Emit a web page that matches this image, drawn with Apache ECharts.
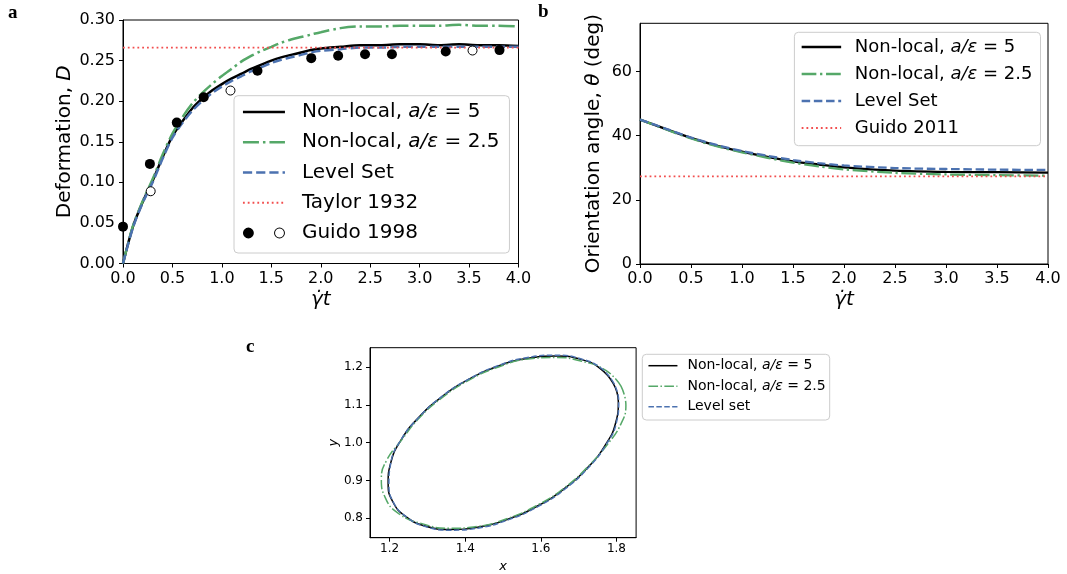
<!DOCTYPE html>
<html><head><meta charset="utf-8">
<script src="https://cdn.jsdelivr.net/npm/echarts@6/dist/echarts.min.js"></script>
<style>html,body{margin:0;padding:0;background:#fff}#c{width:1067px;height:574px}</style>
</head><body><div id="c"></div>
<script>
// ---------- Panel a: deformation D vs strain ----------
const tA = [0,0.1,0.2,0.3,0.4,0.5,0.6,0.7,0.8,0.9,1.0,1.1,1.2,1.3,1.4,1.5,1.6,1.7,1.8,1.9,2.0,2.2,2.4,2.6,2.8,3.0,3.2,3.4,3.6,3.8,4.0];
const dNL5 = [0,0.045,0.076,0.102,0.131,0.157,0.175,0.191,0.203,0.213,0.221,0.228,0.234,0.240,0.245,0.250,0.254,0.257,0.260,0.263,0.265,0.267,0.269,0.269,0.270,0.270,0.269,0.270,0.269,0.269,0.268];
const dNL25 = [0,0.046,0.077,0.104,0.134,0.160,0.180,0.197,0.210,0.221,0.231,0.240,0.249,0.256,0.262,0.267,0.272,0.276,0.279,0.282,0.285,0.290,0.292,0.292,0.293,0.293,0.293,0.294,0.293,0.293,0.292];
const dLS = [0,0.044,0.075,0.100,0.129,0.155,0.173,0.188,0.200,0.210,0.218,0.225,0.231,0.237,0.242,0.247,0.251,0.254,0.257,0.260,0.262,0.264,0.266,0.266,0.267,0.267,0.267,0.267,0.267,0.267,0.267];
const taylorD = 0.266;
const guidoT = [0,0.272,0.544,0.816,1.36,1.904,2.176,2.448,2.72,3.264,3.808];
const guidoD = [0.0454,0.1227,0.1736,0.2049,0.2374,0.253,0.2559,0.2579,0.2579,0.2612,0.2629];
const guidoOpenT = [0.28,1.087,3.535];
const guidoOpenD = [0.089,0.2131,0.2624];
const xTicksA = [0,0.5,1.0,1.5,2.0,2.5,3.0,3.5,4.0];
const yTicksA = [0,0.05,0.10,0.15,0.20,0.25,0.30];

// ---------- Panel b: orientation angle ----------
const tB = [0,0.25,0.5,0.75,1.0,1.25,1.5,1.75,2.0,2.5,3.0,3.5,4.0];
const thNL5 = [45.0,42.1,39.3,36.9,35.0,33.4,32.0,31.0,30.1,29.1,28.7,28.6,28.5];
const thNL25 = [45.0,42.0,39.1,36.7,34.8,33.1,31.6,30.4,29.5,28.4,27.9,27.7,27.5];
const thLS = [45.0,42.2,39.4,37.1,35.2,33.7,32.4,31.4,30.7,29.9,29.6,29.4,29.3];
const guido2011 = 27.3;
const xTicksB = [0,0.5,1.0,1.5,2.0,2.5,3.0,3.5,4.0];
const yTicksB = [0,20,40,60];

// ---------- Panel c: drop shape ----------
const ellNL5 = [[1.791,1.158],[1.758,1.196],[1.706,1.221],[1.641,1.230],[1.567,1.224],[1.487,1.203],[1.409,1.168],[1.337,1.121],[1.276,1.066],[1.230,1.007],[1.203,0.947],[1.196,0.892],[1.209,0.842],[1.243,0.804],[1.294,0.779],[1.359,0.770],[1.433,0.776],[1.513,0.797],[1.591,0.832],[1.663,0.879],[1.724,0.934],[1.770,0.993],[1.798,1.053],[1.805,1.109],[1.791,1.158]];
const ellNL25 = [[1.812,1.150],[1.772,1.192],[1.708,1.216],[1.640,1.226],[1.566,1.222],[1.488,1.201],[1.410,1.166],[1.338,1.119],[1.277,1.064],[1.230,1.005],[1.193,0.955],[1.178,0.905],[1.188,0.855],[1.224,0.812],[1.290,0.784],[1.358,0.773],[1.433,0.778],[1.512,0.799],[1.590,0.834],[1.662,0.880],[1.724,0.936],[1.775,0.994],[1.812,1.050],[1.825,1.100],[1.812,1.150]];
const ellLS = [[1.793,1.158],[1.760,1.197],[1.707,1.222],[1.640,1.232],[1.565,1.226],[1.486,1.204],[1.408,1.168],[1.336,1.121],[1.275,1.065],[1.229,1.006],[1.203,0.946],[1.198,0.890],[1.211,0.840],[1.246,0.802],[1.297,0.777],[1.362,0.768],[1.436,0.774],[1.515,0.796],[1.593,0.831],[1.665,0.878],[1.726,0.934],[1.772,0.994],[1.800,1.054],[1.806,1.110],[1.793,1.158]];
const xTicksC = [1.2,1.4,1.6,1.8];
const yTicksC = [0.8,0.9,1.0,1.1,1.2];

const N5 = 'Non-local, a/ε = 5', N25 = 'Non-local, a/ε = 2.5';
const FONT = 'DejaVu Sans', SERIF = 'Liberation Serif';
const BLACK = '#000000', GREEN = '#55a868', BLUE = '#4c72b0', RED = '#f24e4e';

const zip = (xs, ys) => xs.map((x, i) => [x, ys[i]]);
const fmtLegend = n => n.replace('a/ε', '{i|a/ε}');

function xAx(grid, min, max, ticks, dec, fs, margin, name, nameGap, nameFs) {
  return {
    gridIndex: grid, type: 'value', min, max,
    axisLine: {show: true, onZero: false, lineStyle: {color: '#000', width: 1}},
    axisTick: {show: true, inside: false, length: 4, customValues: ticks, lineStyle: {color: '#000'}},
    splitLine: {show: false},
    axisLabel: {customValues: ticks, formatter: v => v.toFixed(dec), color: '#000', fontFamily: FONT, fontSize: fs, margin},
    name, nameLocation: 'middle', nameGap,
    nameTextStyle: {fontFamily: FONT, fontSize: nameFs, fontStyle: 'italic', color: '#000'}
  };
}
function yAx(grid, min, max, ticks, dec, fs, margin, name, nameGap, nameFs) {
  return {
    gridIndex: grid, type: 'value', min, max,
    axisLine: {show: true, onZero: false, lineStyle: {color: '#000', width: 1}},
    axisTick: {show: true, inside: false, length: 4, customValues: ticks, lineStyle: {color: '#000'}},
    splitLine: {show: false},
    axisLabel: {customValues: ticks, formatter: v => v.toFixed(dec), color: '#000', fontFamily: FONT, fontSize: fs, margin},
    name, nameLocation: 'middle', nameGap, nameRotate: 90,
    nameTextStyle: {fontFamily: FONT, fontSize: nameFs, color: '#000',
      rich: {i: {fontFamily: FONT, fontSize: nameFs, fontStyle: 'italic', color: '#000'}}}
  };
}
function lineS(name, xi, yi, data, color, width, type, smooth) {
  return {name, type: 'line', xAxisIndex: xi, yAxisIndex: yi, data, symbol: 'none', showSymbol: false,
    smooth: smooth || false, silent: true, animation: false,
    lineStyle: {color, width, type, cap: 'butt'}, itemStyle: {color}};
}
function legendBox(left, top, padding, iw, ih, gap, fs, tpad, data) {
  return {
    orient: 'vertical', left, top, padding, itemWidth: iw, itemHeight: ih, itemGap: gap,
    backgroundColor: 'rgba(255,255,255,0.8)', borderColor: '#cccccc', borderWidth: 1, borderRadius: 4,
    selectedMode: false, formatter: fmtLegend,
    textStyle: {fontFamily: FONT, fontSize: fs, lineHeight: fs, color: '#000', padding: [0, 0, 0, tpad],
      rich: {i: {fontFamily: FONT, fontSize: fs, lineHeight: fs, fontStyle: 'italic', color: '#000'}}},
    data
  };
}
// legend entry showing only the line sample (no marker)
const lineItem = (name, ls) => ({name, lineStyle: ls, itemStyle: {opacity: 0}});

const guidoIcon = 'path://M2,6 A5,5 0 1,1 12,6 A5,5 0 1,1 2,6 Z M30.5,6 A5,5 0 1,1 40.5,6 A5,5 0 1,1 30.5,6 Z M31.4,6 A4.1,4.1 0 1,0 39.6,6 A4.1,4.1 0 1,0 31.4,6 Z';

const dashA = [9.2, 4], dashDotA = [16, 4, 2.5, 4], dotR = [1.8, 3];
const dashB = [8.5, 3.7], dashDotB = [14.7, 3.7, 2.3, 3.7];
const dashC = [5.5, 2.4], dashDotC = [9.6, 2.4, 1.5, 2.4];

const option = {
  animation: false,
  backgroundColor: '#ffffff',
  title: [
    {text: 'a', left: 8, top: 4, padding: 0, textStyle: {fontFamily: SERIF, fontWeight: 'bold', fontSize: 19, color: '#000'}},
    {text: 'b', left: 538, top: 3, padding: 0, textStyle: {fontFamily: SERIF, fontWeight: 'bold', fontSize: 19, color: '#000'}},
    {text: 'c', left: 246, top: 338, padding: 0, textStyle: {fontFamily: SERIF, fontWeight: 'bold', fontSize: 19, color: '#000'}}
  ],
  grid: [
    {left: 123, top: 20, width: 395.5, height: 243.5, show: true, borderColor: '#000', borderWidth: 1, backgroundColor: 'transparent', containLabel: false, outerBoundsMode: 'none'},
    {left: 640, top: 23.3, width: 408, height: 240.7, show: true, borderColor: '#000', borderWidth: 1, backgroundColor: 'transparent', containLabel: false, outerBoundsMode: 'none'},
    {left: 370, top: 347.7, width: 266.1, height: 190, show: true, borderColor: '#000', borderWidth: 1, backgroundColor: 'transparent', containLabel: false, outerBoundsMode: 'none'}
  ],
  xAxis: [
    xAx(0, 0, 4, xTicksA, 1, 16, 7, 'γ̇t', 26, 20),
    xAx(1, 0, 4, xTicksB, 1, 16, 7, 'γ̇t', 26, 20),
    xAx(2, 1.148, 1.852, xTicksC, 1, 12, 5.5, 'x', 22, 13)
  ],
  yAxis: [
    yAx(0, 0, 0.30, yTicksA, 2, 16, 8, 'Deformation, {i|D}', 48, 20),
    yAx(1, 0, 75, yTicksB, 0, 16, 8, 'Orientation angle, {i|θ} (deg)', 36, 20),
    yAx(2, 0.748, 1.252, yTicksC, 1, 12, 7, '{i|y}', 29, 13)
  ],
  legend: [
    legendBox(234, 95.7, [6.3, 10, 10, 7.7], 42, 14, 10.25, 20, 12, [
      lineItem(N5, {width: 2.5}),
      lineItem(N25, {width: 2.5}),
      lineItem('Level Set', {width: 2.5}),
      lineItem('Taylor 1932', {width: 1.8}),
      {name: 'Guido 1998', icon: guidoIcon, itemStyle: {color: '#000', opacity: 1}}
    ]),
    legendBox(794.4, 32.3, [5.7, 8, 8.7, 6.1], 39.5, 14, 9, 18, 8.6, [
      lineItem(N5, {width: 2.3}),
      lineItem(N25, {width: 2.3, type: dashDotB}),
      lineItem('Level Set', {width: 2.3, type: dashB}),
      lineItem('Guido 2011', {width: 1.8})
    ]),
    legendBox(642.3, 354.3, [4.4, 4, 6.3, 5.4], 29, 10, 6.5, 14, 5, [
      lineItem(N5, {width: 1.5}),
      lineItem(N25, {width: 1.5, type: dashDotC}),
      lineItem('Level set', {width: 1.5})
    ])
  ],
  series: [
    // panel a
    lineS(N5, 0, 0, zip(tA, dNL5), BLACK, 2.5, 'solid', 0.3),
    lineS(N25, 0, 0, zip(tA, dNL25), GREEN, 2.5, dashDotA, 0.3),
    lineS('Level Set', 0, 0, zip(tA, dLS), BLUE, 2.5, dashA, 0.3),
    lineS('Taylor 1932', 0, 0, [[xTicksA[0], taylorD], [xTicksA[xTicksA.length - 1], taylorD]], RED, 1.8, dotR),
    {name: 'Guido 1998', type: 'scatter', xAxisIndex: 0, yAxisIndex: 0, data: zip(guidoT, guidoD),
      symbol: 'circle', symbolSize: 10, itemStyle: {color: '#000', opacity: 1}, silent: true, z: 3},
    {name: 'Guido 1998 (open)', type: 'scatter', xAxisIndex: 0, yAxisIndex: 0, data: zip(guidoOpenT, guidoOpenD),
      symbol: 'circle', symbolSize: 9, itemStyle: {color: '#fff', borderColor: '#000', borderWidth: 1, opacity: 1}, silent: true, z: 3},
    // panel b
    lineS(N5, 1, 1, zip(tB, thNL5), BLACK, 2.3, 'solid', 0.3),
    lineS(N25, 1, 1, zip(tB, thNL25), GREEN, 2.3, dashDotB, 0.3),
    lineS('Level Set', 1, 1, zip(tB, thLS), BLUE, 2.3, dashB, 0.3),
    lineS('Guido 2011', 1, 1, [[xTicksB[0], guido2011], [xTicksB[xTicksB.length - 1], guido2011]], RED, 1.8, dotR),
    // panel c
    lineS(N5, 2, 2, ellNL5, BLACK, 1.5, 'solid', 0.5),
    lineS(N25, 2, 2, ellNL25, GREEN, 1.5, dashDotC, 0.5),
    lineS('Level set', 2, 2, ellLS, BLUE, 1.5, dashC, 0.5)
  ]
};

const chart = echarts.init(document.getElementById('c'), null, {renderer: 'canvas', width: 1067, height: 574});
chart.setOption(option);
</script>
</body></html>
